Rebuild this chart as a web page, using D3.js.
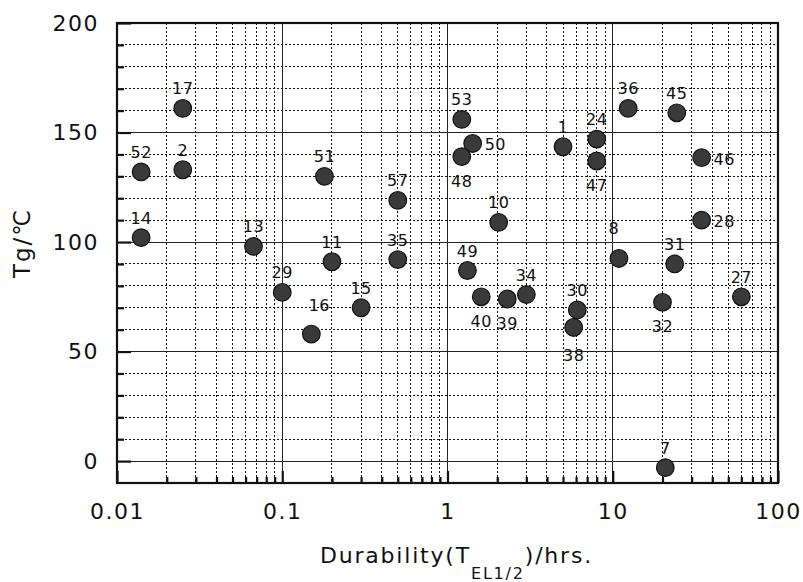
<!DOCTYPE html>
<html>
<head>
<meta charset="utf-8">
<script src="https://cdn.jsdelivr.net/npm/d3@7"></script>
<style>
    body { margin: 0; background: #fff; }
    text { font-family: "DejaVu Sans", sans-serif; fill: #111; }
</style>
</head>
<body>
<script>
// sample numbers and the values
var ids        = [52, 17, 2, 14, 13, 29, 16, 51, 11, 15, 57, 35, 53, 50, 48, 10, 49, 40, 39, 34, 1, 24, 47, 30, 38, 8, 36, 45, 46, 28, 31, 32, 27, 7];
var durability = [0.014, 0.025, 0.025, 0.014, 0.067, 0.1, 0.15, 0.18, 0.2, 0.3, 0.5, 0.5, 1.22, 1.42, 1.22, 2.04, 1.32, 1.6, 2.3, 3.0, 5.0, 8.0, 8.0, 6.1, 5.8, 10.9, 12.4, 24.4, 34.5, 34.5, 23.7, 20, 60, 20.8];
var tg         = [132, 161, 133, 102, 98, 77, 58, 130, 91, 70, 119, 92, 156, 145, 139, 109, 87, 75, 74, 76, 143.5, 147, 137, 69, 61, 92.5, 161, 159, 138.5, 110, 90, 72.5, 75, -3];
// where each number sits: t = above, b = below, r = right, tr / tl = up-right / up-left
var labelSide  = ["t", "t", "t", "t", "t", "t", "tr", "t", "t", "t", "t", "t", "t", "r", "b", "t", "t", "b", "b", "t", "t", "t", "b", "t", "b2", "tl", "t", "t", "r", "r", "t", "b", "t", "t"];

var xTickValues = [0.01, 0.1, 1, 10, 100];
var xTickLabels = ["0.01", "0.1", "1", "10", "100"];
var yTickValues = [0, 50, 100, 150, 200];

function init() {
    var w = 803;
    var h = 582;
    var left = 117, right = 778, top = 23, bottom = 483;

    var svg = d3.select("body")
        .append("svg")
        .attr("width", w)
        .attr("height", h);

    var x = d3.scaleLog().domain([0.01, 100]).range([left, right]);
    var y = d3.scaleLinear().domain([-10, 200]).range([bottom, top]);

    // minor grid values
    var xMinor = [];
    [0.01, 0.1, 1, 10].forEach(function(dec) {
        for (var k = 2; k <= 9; k++) xMinor.push(+(dec * k).toPrecision(3));
    });
    var yMinor = d3.range(10, 200, 10).filter(d => d % 50 !== 0);

    // dotted minor grid
    var grid = svg.append("g").attr("shape-rendering", "crispEdges");
    grid.selectAll("line.xm")
        .data(xMinor).enter().append("line")
        .attr("x1", d => x(d)).attr("x2", d => x(d))
        .attr("y1", top).attr("y2", bottom)
        .attr("stroke", "#111").attr("stroke-width", 1)
        .attr("stroke-dasharray", "2,2");
    grid.selectAll("line.ym")
        .data(yMinor).enter().append("line")
        .attr("x1", left).attr("x2", right)
        .attr("y1", d => y(d)).attr("y2", d => y(d))
        .attr("stroke", "#111").attr("stroke-width", 1)
        .attr("stroke-dasharray", "2,2");

    // solid major grid
    grid.selectAll("line.xM")
        .data(xTickValues.slice(1, -1)).enter().append("line")
        .attr("x1", d => x(d)).attr("x2", d => x(d))
        .attr("y1", top).attr("y2", bottom)
        .attr("stroke", "#222").attr("stroke-width", 1);
    grid.selectAll("line.yM")
        .data(yTickValues.slice(0, -1)).enter().append("line")
        .attr("x1", left).attr("x2", right)
        .attr("y1", d => y(d)).attr("y2", d => y(d))
        .attr("stroke", "#222").attr("stroke-width", 1);

    // inward tick marks
    var tickStyle = function(g) {
        g.select(".domain").remove();
        g.selectAll("line").attr("stroke", "#111").attr("stroke-width", 2.2);
    };
    svg.append("g").attr("transform", "translate(0," + bottom + ")")
        .call(d3.axisBottom(x).tickValues(xMinor).tickSize(-6).tickFormat(""))
        .call(tickStyle);
    svg.append("g").attr("transform", "translate(0," + bottom + ")")
        .call(d3.axisBottom(x).tickValues(xTickValues).tickSize(-12).tickFormat(""))
        .call(tickStyle);
    svg.append("g").attr("transform", "translate(" + left + ",0)")
        .call(d3.axisLeft(y).tickValues(yMinor).tickSize(-7).tickFormat(""))
        .call(tickStyle);
    svg.append("g").attr("transform", "translate(" + left + ",0)")
        .call(d3.axisLeft(y).tickValues(yTickValues).tickSize(-14).tickFormat(""))
        .call(tickStyle);

    // tick labels
    var xAxis = svg.append("g").attr("transform", "translate(0," + bottom + ")")
        .call(d3.axisBottom(x).tickValues(xTickValues)
            .tickFormat((d, i) => xTickLabels[i]).tickSize(0).tickPadding(20));
    var yAxis = svg.append("g").attr("transform", "translate(" + left + ",0)")
        .call(d3.axisLeft(y).tickValues(yTickValues).tickSize(0).tickPadding(18));
    [xAxis, yAxis].forEach(function(g) {
        g.select(".domain").remove();
        g.attr("font-family", null).attr("font-size", null);
        g.selectAll("text")
            .style("font-size", "22px")
            .style("letter-spacing", "1.5px")
            .attr("fill", "#111");
    });

    // frame
    svg.append("rect")
        .attr("x", left).attr("y", top)
        .attr("width", right - left).attr("height", bottom - top)
        .attr("fill", "none").attr("stroke", "#111").attr("stroke-width", 2.2);

    // points
    var pts = ids.map((id, i) => ({ id: id, x: durability[i], y: tg[i], side: labelSide[i] }));

    svg.append("g").selectAll("circle")
        .data(pts).enter().append("circle")
        .attr("cx", d => x(d.x))
        .attr("cy", d => y(d.y))
        .attr("r", 8.8)
        .attr("fill", "#3a3a3a")
        .attr("stroke", "#111")
        .attr("stroke-width", 1.2);

    var offsets = {
        t:  { dx: 0,  dy: -14, anchor: "middle" },
        b:  { dx: 0,  dy: 30,  anchor: "middle" },
        b2: { dx: 0,  dy: 34,  anchor: "middle" },
        r:  { dx: 12, dy: 7,   anchor: "start" },
        tr: { dx: 8,  dy: -23, anchor: "middle" },
        tl: { dx: -5, dy: -24, anchor: "middle" }
    };

    svg.append("g").selectAll("text")
        .data(pts).enter().append("text")
        .attr("x", d => x(d.x) + offsets[d.side].dx)
        .attr("y", d => y(d.y) + offsets[d.side].dy)
        .attr("text-anchor", d => offsets[d.side].anchor)
        .style("font-size", "16px")
        .style("letter-spacing", "0.5px")
        .text(d => d.id);

    // axis titles
    svg.append("text")
        .attr("transform", "translate(30,243) rotate(-90)")
        .attr("text-anchor", "middle")
        .style("font-size", "23px")
        .style("letter-spacing", "2px")
        .text("Tg/℃");

    var xt = svg.append("text")
        .attr("x", 320).attr("y", 563)
        .style("font-size", "22px")
        .style("letter-spacing", "1.8px");
    xt.append("tspan").text("Durability(T");
    xt.append("tspan").attr("dy", 16).style("font-size", "16px").text("EL1/2");
    xt.append("tspan").attr("dy", -16).text(")/hrs.");
}

window.onload = init;
</script>
</body>
</html>
